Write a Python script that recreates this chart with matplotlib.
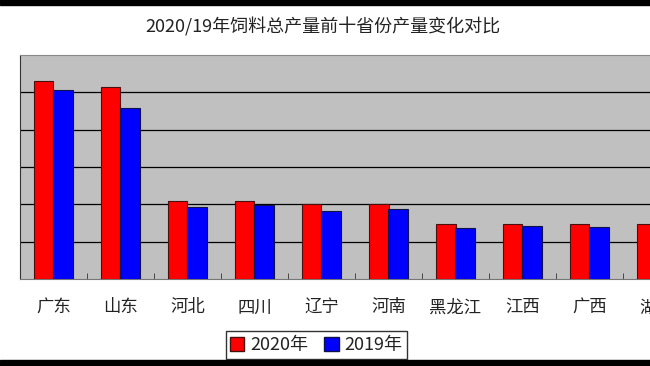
import matplotlib.pyplot as plt
from matplotlib.patches import Patch, Rectangle
import numpy as np

plt.rcParams['font.family'] = ['Noto Sans CJK SC', 'DejaVu Sans']
plt.rcParams['text.color'] = '#222222'
plt.rcParams['xtick.color'] = '#222222'

provinces = ['广东', '山东', '河北', '四川', '辽宁', '河南', '黑龙江', '江西', '广西', '湖南']
output_2020 = [3186, 3078, 1254, 1254, 1212, 1212, 888, 888, 880, 880]
output_2019 = [3042, 2754, 1152, 1194, 1092, 1122, 822, 852, 836, 830]
title = '2020/19年饲料总产量前十省份产量变化对比'

fig = plt.figure(figsize=(6.5, 3.66), dpi=100)
ax = fig.add_axes([20 / 650, 87 / 366, 670 / 650, 224 / 366])
ax.set_facecolor('#c0c0c0')

x = np.arange(len(provinces))
w = 0.29
ax.bar(x - w / 2, output_2020, w, color='#ff0000', edgecolor='#4a1010', linewidth=0.8, zorder=3)
ax.bar(x + w / 2, output_2019, w, color='#0000ff', edgecolor='#10104a', linewidth=0.8, zorder=3)

ax.set_xlim(-0.5, len(provinces) - 0.5)
ax.set_ylim(0, 3600)
ax.set_yticks([600, 1200, 1800, 2400, 3000])
ax.tick_params(axis='y', length=0, labelleft=False)
ax.yaxis.grid(True, color='black', linewidth=0.9, zorder=1)

ax.set_xticks(x)
ax.set_xticklabels(provinces, fontsize=12.5)
ax.tick_params(axis='x', length=0, pad=14)
ax.set_xticks(np.arange(len(provinces) + 1) - 0.5, minor=True)
ax.tick_params(axis='x', which='minor', direction='in', length=4, color='#333333')

ax.spines['left'].set_color('#333333')
ax.spines['bottom'].set_color('#777777')
ax.spines['top'].set_color('#888888')
ax.spines['right'].set_visible(False)

fig.text(323 / 650, 1 - 27 / 366, title, ha='center', va='center', fontsize=13)

handles = [Patch(facecolor='#ff0000', edgecolor='#4a1010', label='2020年'),
           Patch(facecolor='#0000ff', edgecolor='#10104a', label='2019年')]
leg = fig.legend(handles=handles, loc='center', bbox_to_anchor=(316 / 650, 1 - 345 / 366),
                 ncol=2, fontsize=13, frameon=True, fancybox=False, edgecolor='black',
                 handlelength=0.8, handleheight=0.8, handletextpad=0.3,
                 columnspacing=0.9, borderpad=0.25, borderaxespad=0)
leg.get_frame().set_linewidth(1.0)

# black bands at top and bottom of the screenshot
fig.add_artist(Rectangle((0, 1 - 5 / 366), 1, 5 / 366, transform=fig.transFigure, color='black'))
fig.add_artist(Rectangle((0, 0), 1, 6 / 366, transform=fig.transFigure, color='black'))

plt.savefig('out.png', dpi=100)
plt.close()
